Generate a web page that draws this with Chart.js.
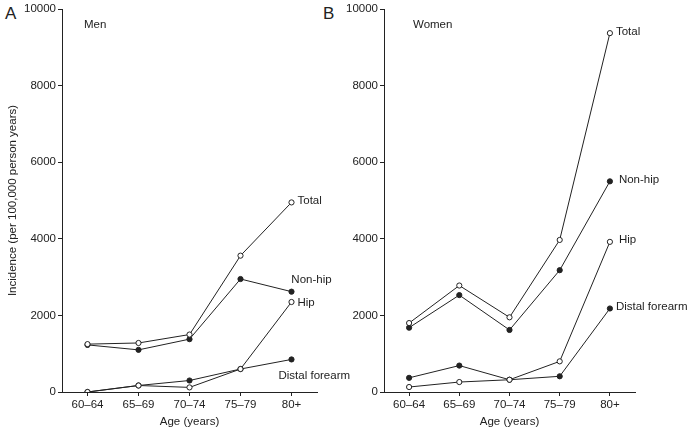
<!DOCTYPE html>
<html>
<head>
<meta charset="utf-8">
<script src="https://cdn.jsdelivr.net/npm/chart.js@4/dist/chart.umd.min.js"></script>
<style>
    html, body { margin: 0; padding: 0; background: #fff; }
    body { width: 687px; height: 432px; position: relative; overflow: hidden; font-family: "Liberation Sans", Arial, sans-serif; color: #222; }
    .panel { position: absolute; top: 0; height: 432px; }
    #panelA { left: 0; width: 362px; }
    #panelB { left: 340px; width: 347px; }
    .letter { position: absolute; top: 4px; font-size: 17px; }
</style>
</head>
<body>
<div class="letter" style="left:5px">A</div>
<div class="letter" style="left:323px">B</div>
<div class="panel" id="panelA"><canvas id="chartA"></canvas></div>
<div class="panel" id="panelB"><canvas id="chartB"></canvas></div>
<script>
const ageGroups = ["60\u201364", "65\u201369", "70\u201374", "75\u201379", "80+"];
const yTicks = [0, 2000, 4000, 6000, 8000, 10000];

// Men
const menTotal = [1250, 1280, 1500, 3560, 4950];
const menNonHip = [1230, 1100, 1380, 2950, 2620];
const menHip = [0, 170, 120, 600, 2350];
const menDistal = [0, 170, 300, 600, 850];

// Women
const womenTotal = [1800, 2780, 1950, 3970, 9370];
const womenNonHip = [1680, 2530, 1620, 3180, 5500];
const womenHip = [130, 260, 320, 800, 3920];
const womenDistal = [370, 690, 320, 410, 2180];

const FONT = "'Liberation Sans', Arial, sans-serif";
const INK = "#222";

// label next to the last point of each line
const endLabels = {
    id: "endLabels",
    afterDatasetsDraw(chart, args, opts) {
        const ctx = chart.ctx;
        ctx.save();
        ctx.font = "11.5px " + FONT;
        ctx.fillStyle = INK;
        ctx.textBaseline = "middle";
        chart.data.datasets.forEach((ds, i) => {
            const meta = chart.getDatasetMeta(i);
            const pt = meta.data[meta.data.length - 1];
            const pos = ds.labelPos || { dx: 6, dy: 0 };
            ctx.textAlign = pos.align || "left";
            ctx.fillText(ds.label, pt.x + pos.dx, pt.y + pos.dy);
        });
        // panel caption
        ctx.textAlign = "left";
        ctx.fillText(opts.caption, chart.chartArea.left + opts.captionX, chart.chartArea.top + 16);
        ctx.restore();
    }
};

function lineSet(label, data, hollow, labelPos) {
    return {
        label: label,
        data: data,
        borderColor: INK,
        borderWidth: 1,
        pointRadius: 2.6,
        pointBorderWidth: 1,
        pointBorderColor: INK,
        pointBackgroundColor: hollow ? "#fff" : INK,
        tension: 0,
        labelPos: labelPos
    };
}

function makeChart(id, datasets, yWidth, padRight, showYTitle, caption, captionX) {
    return new Chart(document.getElementById(id), {
        type: "line",
        data: { labels: ageGroups, datasets: datasets },
        plugins: [endLabels],
        options: {
            responsive: true,
            maintainAspectRatio: false,
            animation: false,
            layout: { padding: { top: 9, right: padRight, left: 0, bottom: 0 } },
            plugins: {
                legend: { display: false },
                tooltip: { enabled: false },
                endLabels: { caption: caption, captionX: captionX }
            },
            scales: {
                x: {
                    offset: true,
                    grid: { display: true, drawOnChartArea: false, tickLength: 4, color: INK, offset: false },
                    border: { color: INK, width: 1 },
                    ticks: { color: INK, font: { family: FONT, size: 11.5 }, padding: 2, maxRotation: 0 },
                    title: { display: true, text: "Age (years)", color: INK, font: { family: FONT, size: 11.5 }, padding: { top: 0, bottom: 3 } },
                    afterFit: s => { s.height = 40; }
                },
                y: {
                    min: 0,
                    max: 10000,
                    afterBuildTicks: s => { s.ticks = yTicks.map(v => ({ value: v })); },
                    grid: { display: true, drawOnChartArea: false, tickLength: 4, color: INK },
                    border: { color: INK, width: 1 },
                    ticks: { color: INK, font: { family: FONT, size: 11.5 }, padding: 2, callback: v => String(v) },
                    title: { display: showYTitle, text: "Incidence (per 100,000 person years)", color: INK, font: { family: FONT, size: 11.5 }, padding: { top: 6, bottom: 0 } },
                    afterFit: s => { s.width = yWidth; }
                }
            }
        }
    });
}

makeChart("chartA", [
    lineSet("Total", menTotal, true, { dx: 6, dy: -2 }),
    lineSet("Non-hip", menNonHip, false, { dx: 20, dy: -12, align: "center" }),
    lineSet("Hip", menHip, true, { dx: 6, dy: 1 }),
    lineSet("Distal forearm", menDistal, false, { dx: -13, dy: 16 })
], 62, 45, true, "Men", 22);

makeChart("chartB", [
    lineSet("Total", womenTotal, true, { dx: 6, dy: -1 }),
    lineSet("Non-hip", womenNonHip, false, { dx: 9, dy: -2 }),
    lineSet("Hip", womenHip, true, { dx: 9, dy: -2 }),
    lineSet("Distal forearm", womenDistal, false, { dx: 6, dy: -2 })
], 44, 52, false, "Women", 29);
</script>
</body>
</html>
